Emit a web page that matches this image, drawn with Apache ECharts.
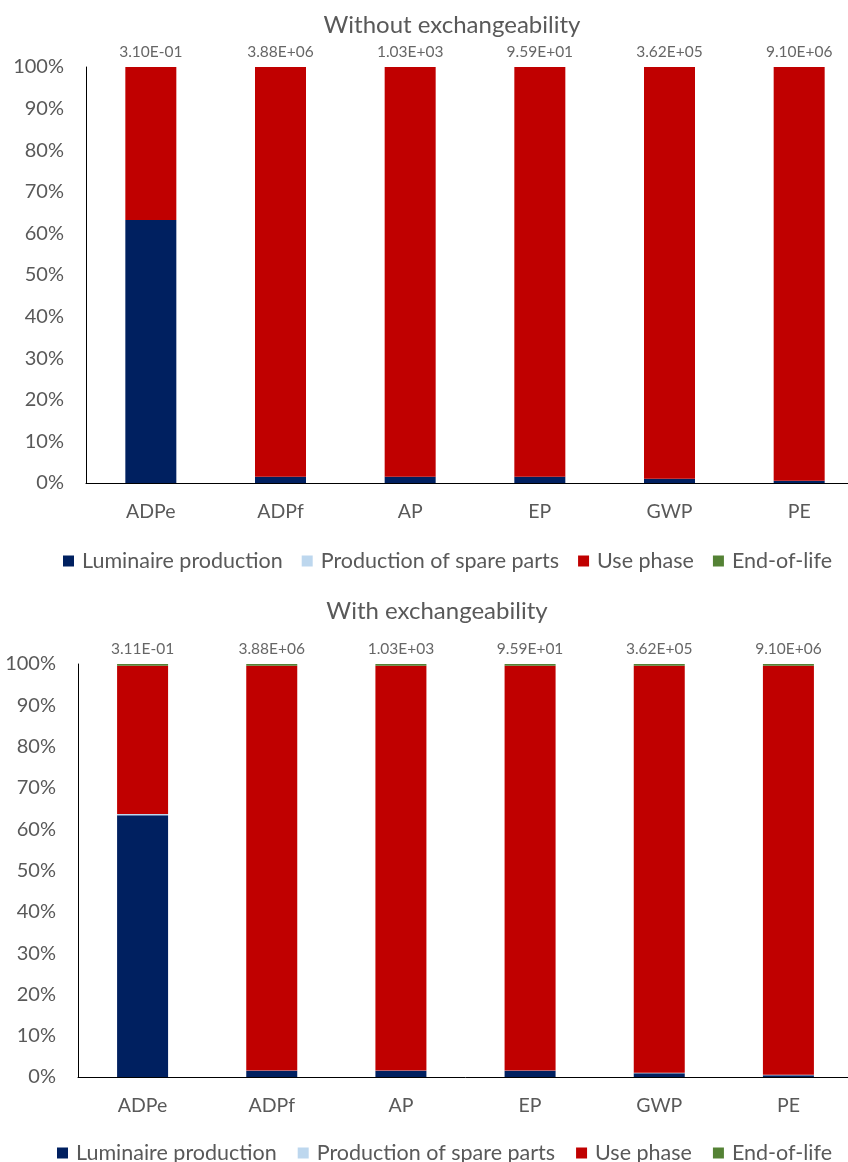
<!DOCTYPE html>
<html>
<head>
<meta charset="utf-8">
<script src="https://cdn.jsdelivr.net/npm/echarts@6/dist/echarts.min.js"></script>
<style>
  html, body { margin: 0; padding: 0; background: #fff; overflow: hidden; width: 848px; height: 1162px; }
  #chart { width: 880px; height: 1162px; }
</style>
</head>
<body>
<div id="chart"></div>
<script>
// Impact categories (x axis)
const categories = ['ADPe', 'ADPf', 'AP', 'EP', 'GWP', 'PE'];
const yTicks = [0, 10, 20, 30, 40, 50, 60, 70, 80, 90, 100];

// Share of each life-cycle stage (%), scenario without exchangeability
const noExLuminaire = [63.2, 1.5, 1.5, 1.5, 1.0, 0.55];
const noExSpare     = [0, 0, 0, 0, 0, 0];
const noExUse       = [36.8, 98.5, 98.5, 98.5, 99.0, 99.45];
const noExEol       = [0, 0, 0, 0, 0, 0];
const noExTotals    = ['3.10E-01', '3.88E+06', '1.03E+03', '9.59E+01', '3.62E+05', '9.10E+06'];

// Share of each life-cycle stage (%), scenario with exchangeability
const exLuminaire = [63.4, 1.5, 1.5, 1.5, 0.9, 0.45];
const exSpare     = [0.3, 0.1, 0.1, 0.1, 0.1, 0.1];
const exUse       = [35.9, 98.0, 98.0, 98.0, 98.6, 99.05];
const exEol       = [0.4, 0.4, 0.4, 0.4, 0.4, 0.4];
const exTotals    = ['3.11E-01', '3.88E+06', '1.03E+03', '9.59E+01', '3.62E+05', '9.10E+06'];

const stageNames = ['Luminaire production', 'Production of spare parts', 'Use phase', 'End-of-life'];
const stageColors = ['#002060', '#BDD7EE', '#C00000', '#548235'];

const FONT = 'Lato, "Open Sans", sans-serif';
const TEXT = '#595959';

const chart = echarts.init(document.getElementById('chart'), null, { renderer: 'canvas' });

function stackSeries(idx, stack, arrays, totals) {
  const out = arrays.map((arr, i) => ({
    name: stageNames[i],
    type: 'bar',
    stack: stack,
    xAxisIndex: idx,
    yAxisIndex: idx,
    barWidth: 51,
    itemStyle: { color: stageColors[i] },
    data: arr
  }));
  // Totals written just above each 100 % column
  out.push({
    type: 'scatter',
    xAxisIndex: idx,
    yAxisIndex: idx,
    symbolSize: 0,
    silent: true,
    data: categories.map(() => yTicks[yTicks.length - 1]),
    label: {
      show: true,
      position: 'top',
      distance: 7,
      fontFamily: FONT,
      fontSize: 15.5,
      color: '#404040',
      formatter: p => totals[p.dataIndex]
    }
  });
  return out;
}

function xAxis(idx) {
  return {
    type: 'category',
    gridIndex: idx,
    data: categories,
    axisLine: { lineStyle: { color: '#000', width: 1 } },
    axisTick: { show: false },
    axisLabel: { fontFamily: FONT, fontSize: 19.5, color: TEXT, margin: 19 }
  };
}

function yAxis(idx) {
  return {
    type: 'value',
    gridIndex: idx,
    min: yTicks[0],
    max: yTicks[yTicks.length - 1],
    interval: 10,
    axisLine: { show: true, lineStyle: { color: '#000', width: 1 } },
    axisTick: { show: false },
    splitLine: { show: false },
    axisLabel: { fontFamily: FONT, fontSize: 20, color: TEXT, margin: 22, formatter: '{value}%' }
  };
}

function legend(left, top, gap) {
  return {
    data: stageNames,
    left: left,
    top: top,
    itemWidth: 11,
    itemHeight: 11,
    itemGap: gap,
    icon: 'rect',
    selectedMode: false,
    textStyle: { fontFamily: FONT, fontSize: 21.5, color: TEXT, padding: [0, 0, 0, 3] }
  };
}

chart.setOption({
  animation: false,
  backgroundColor: '#fff',
  title: [
    { text: 'Without exchangeability', left: 447, top: 8, textAlign: 'center',
      textStyle: { fontFamily: FONT, fontSize: 24, fontWeight: 'normal', color: TEXT } },
    { text: 'With exchangeability', left: 432, top: 594, textAlign: 'center',
      textStyle: { fontFamily: FONT, fontSize: 24, fontWeight: 'normal', color: TEXT } }
  ],
  legend: [legend(58, 545, 19), legend(52, 1137, 21)],
  grid: [
    { left: 86, top: 67, width: 778, height: 416 },
    { left: 78, top: 664, width: 775, height: 413 }
  ],
  xAxis: [xAxis(0), xAxis(1)],
  yAxis: [yAxis(0), yAxis(1)],
  series: [
    ...stackSeries(0, 'without', [noExLuminaire, noExSpare, noExUse, noExEol], noExTotals),
    ...stackSeries(1, 'with', [exLuminaire, exSpare, exUse, exEol], exTotals)
  ]
});
</script>
</body>
</html>
